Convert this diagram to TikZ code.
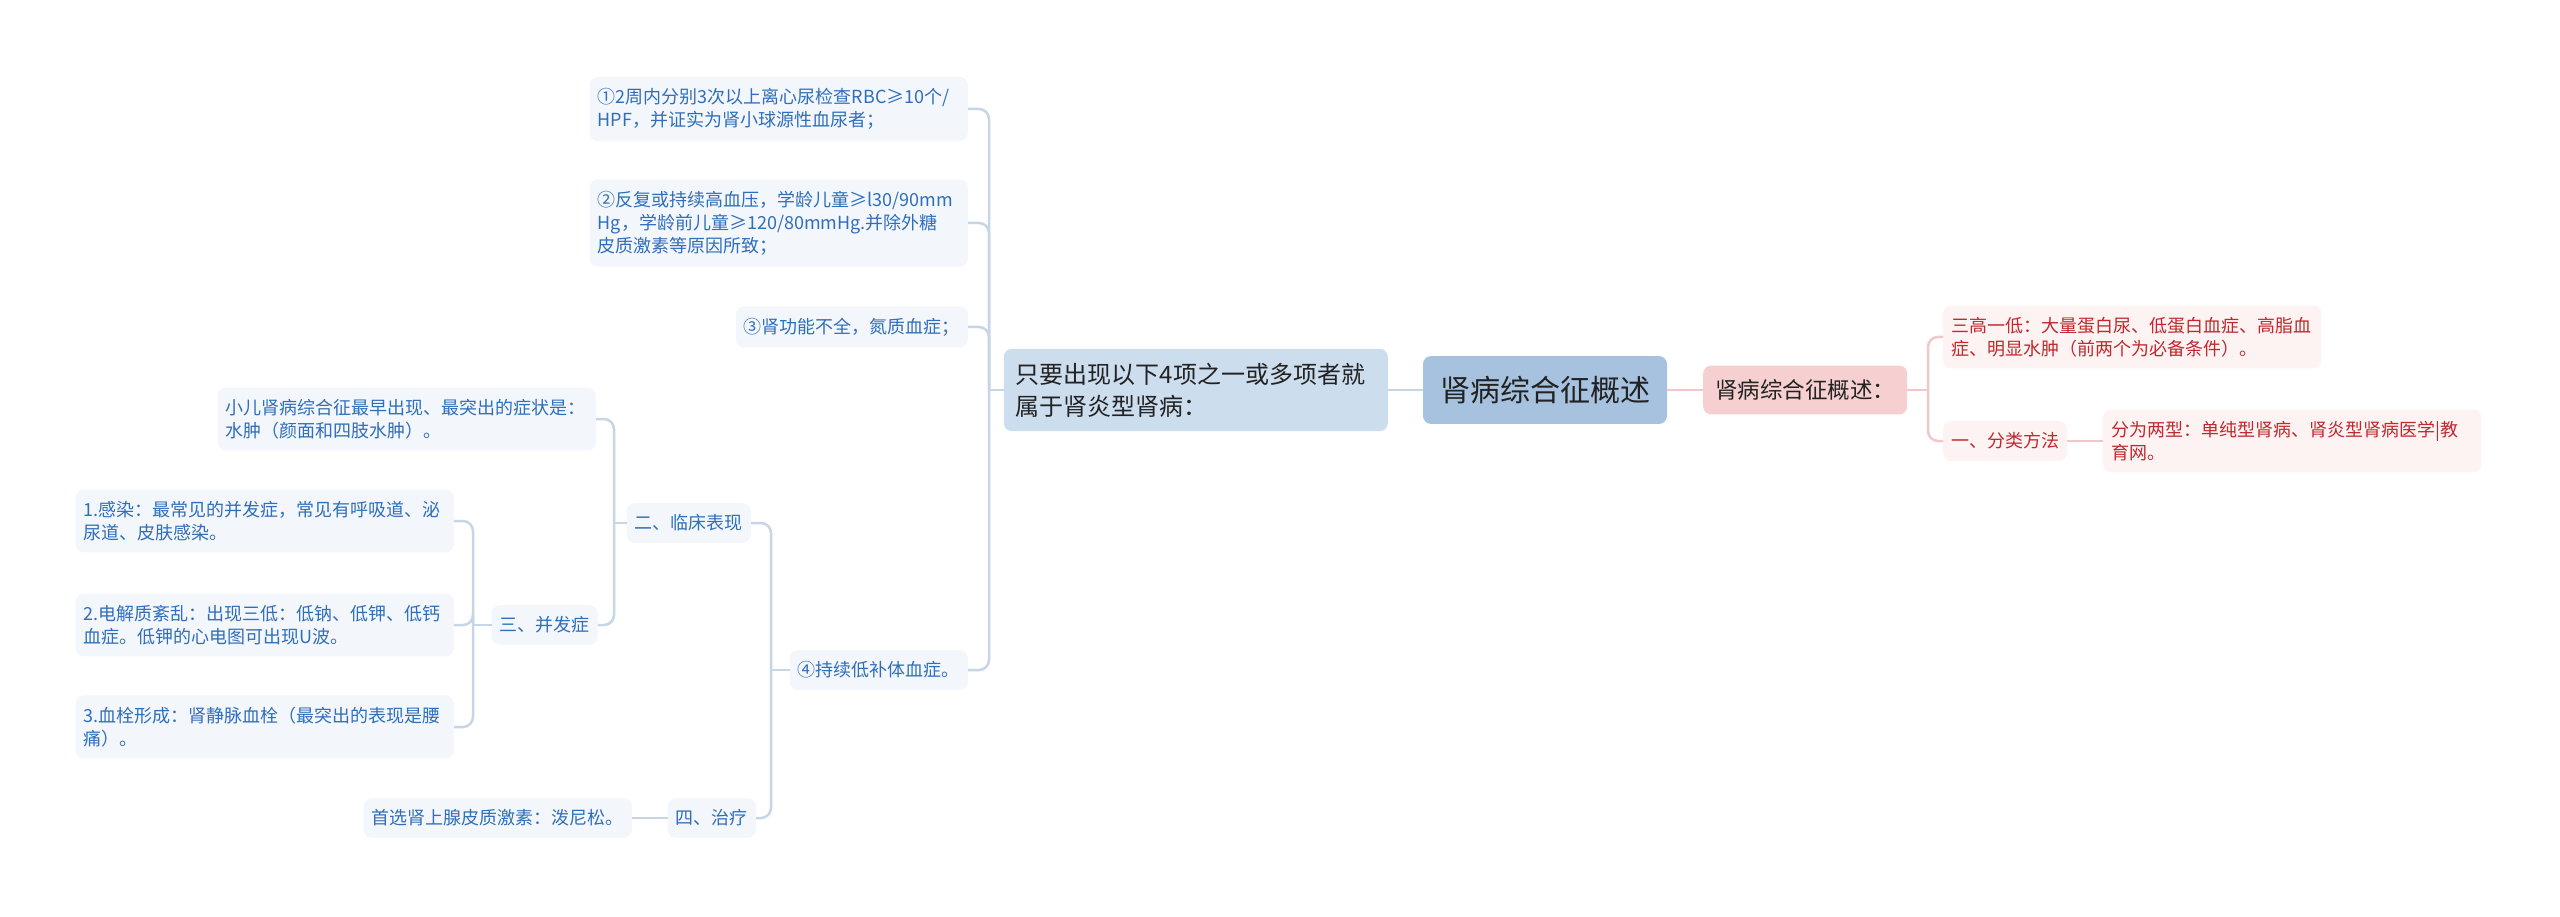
\documentclass[tikz,border=0pt]{standalone}
\usepackage{fontspec}
\setmainfont{Noto Sans CJK SC}
\usepackage{tikz}
\definecolor{ink}{HTML}{222222}
\definecolor{bluetxt}{HTML}{2F6EBA}
\definecolor{bluefill}{HTML}{F3F7FC}
\definecolor{bluemid}{HTML}{CCDDEE}
\definecolor{bluetop}{HTML}{A6C2DE}
\definecolor{blueln}{HTML}{C7D6E7}
\definecolor{redtxt}{HTML}{C0282E}
\definecolor{redfill}{HTML}{FDF3F3}
\definecolor{redmid}{HTML}{F6D0D0}
\definecolor{redln}{HTML}{F3C7C9}

\begin{document}
\begin{tikzpicture}[x=1pt, y=-1pt,
  leaf/.style={fill=bluefill, text=bluetxt, rounded corners=8pt, inner xsep=8pt, inner ysep=11.5pt, align=left, font=\fontsize{18}{23}\selectfont},
  wide/.style={text width=362pt},
  rleaf/.style={leaf, fill=redfill, text=redtxt},
  topbox/.style={fill=bluetop, text=ink, rounded corners=8pt, inner xsep=17pt, inner ysep=20pt, font=\fontsize{30}{36}\selectfont},
  midbox/.style={fill=bluemid, text=ink, rounded corners=8pt, inner xsep=12pt, inner ysep=14pt, text width=360pt, align=left, font=\fontsize{24}{32}\selectfont},
  rmidbox/.style={fill=redmid, text=ink, rounded corners=8pt, inner xsep=12pt, inner ysep=14pt, font=\fontsize{22.5}{28}\selectfont},
  ln/.style={draw=blueln, line width=2.5pt, rounded corners=10pt},
  rln/.style={ln, draw=redln}]
\fill[white] (0,0) rectangle (2560,917);

% centre and first level
\node[topbox] (top) at (1545,390) {肾病综合征概述};
\node[midbox, anchor=east] (cond) at (1388,390) {只要出现以下4项之一或多项者就\\属于肾炎型肾病：};
\node[rmidbox, anchor=west] (sum) at (1703,390) {肾病综合征概述：};
\draw[ln] (top) -- (cond);
\draw[rln] (top) -- (sum);

% the four criteria
\node[leaf, wide, anchor=east] (c1) at (968,109) {①2周内分别3次以上离心尿检查RBC≥10个/\\HPF，并证实为肾小球源性血尿者；};
\node[leaf, wide, anchor=east] (c2) at (968,223) {②反复或持续高血压，学龄儿童≥l30/90mm\\Hg，学龄前儿童≥120/80mmHg.并除外糖\\皮质激素等原因所致；};
\node[leaf, anchor=east] (c3) at (968,327) {③肾功能不全，氮质血症；};
\node[leaf, anchor=east] (c4) at (968,670) {④持续低补体血症。};
\coordinate (jc) at (989,390);
\draw[ln] (cond.west) -- (jc);
\foreach \n in {c1,c2,c3,c4}
  \draw[ln] (jc) |- (\n.east);

% under criterion 4
\node[leaf, anchor=east] (k1) at (751,523) {二、临床表现};
\node[leaf, anchor=east] (k2) at (756,818) {四、治疗};
\node[leaf, anchor=east] (k2a) at (632,818) {首选肾上腺皮质激素：泼尼松。};
\coordinate (j4) at (771,670);
\draw[ln] (c4.west) -- (j4);
\foreach \n in {k1,k2}
  \draw[ln] (j4) |- (\n.east);
\draw[ln] (k2) -- (k2a);

\node[leaf, wide, anchor=east] (k1a) at (596,419) {小儿肾病综合征最早出现、最突出的症状是：\\水肿（颜面和四肢水肿）。};
\node[leaf, anchor=east] (k1b) at (598,625) {三、并发症};
\coordinate (j1) at (614,523);
\draw[ln] (k1.west) -- (j1);
\foreach \n in {k1a,k1b}
  \draw[ln] (j1) |- (\n.east);

\node[leaf, wide, anchor=east] (b1) at (454,521) {1.感染：最常见的并发症，常见有呼吸道、泌\\尿道、皮肤感染。};
\node[leaf, wide, anchor=east] (b2) at (454,625) {2.电解质紊乱：出现三低：低钠、低钾、低钙\\血症。低钾的心电图可出现U波。};
\node[leaf, wide, anchor=east] (b3) at (454,727) {3.血栓形成：肾静脉血栓（最突出的表现是腰\\痛）。};
\coordinate (j3) at (473,625);
\draw[ln] (k1b.west) -- (j3);
\foreach \n in {b1,b2,b3}
  \draw[ln] (j3) |- (\n.east);

% right branch
\node[rleaf, wide, anchor=west] (p1) at (1943,337) {三高一低：大量蛋白尿、低蛋白血症、高脂血\\症、明显水肿（前两个为必备条件）。};
\node[rleaf, anchor=west] (p2) at (1943,441) {一、分类方法};
\node[rleaf, wide, anchor=west] (p2a) at (2103,441) {分为两型：单纯型肾病、肾炎型肾病医学|教\\育网。};
\coordinate (jr) at (1928,390);
\draw[rln] (sum.east) -- (jr);
\foreach \n in {p1,p2}
  \draw[rln] (jr) |- (\n.west);
\draw[rln] (p2) -- (p2a);
\end{tikzpicture}
\end{document}
